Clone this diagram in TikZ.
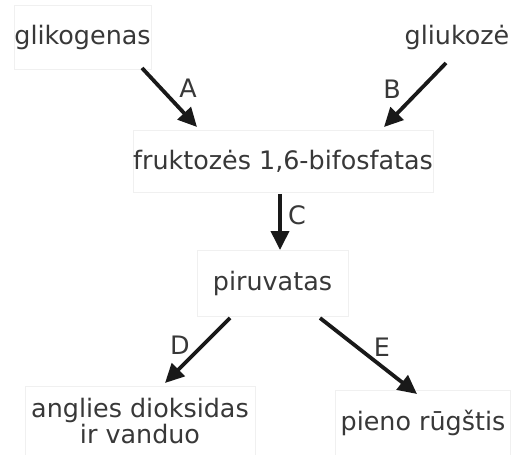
\documentclass[tikz,border=0pt]{standalone}
\usepackage{fontspec}
\setmainfont{DejaVu Sans}
\usetikzlibrary{arrows.meta}
\definecolor{txt}{HTML}{383838}
\definecolor{boxline}{HTML}{F0F0F0}
\tikzset{
  box/.style={draw=boxline, line width=0.8pt, inner sep=0pt, text=txt, align=center, font=\fontsize{25.5}{27}\selectfont},
  lbl/.style={text=txt, inner sep=0pt, font=\fontsize{25.5}{27}\selectfont},
  arr/.style={draw=black!90, line width=3.8pt, -{Triangle[length=19pt,width=18pt]}}
}
\begin{document}
\begin{tikzpicture}[x=1bp,y=-1bp]
\useasboundingbox[fill=white] (0,0) rectangle (511,455);
\node[box, minimum width=137bp, minimum height=64bp] (glik) at (82.5,37) {glikogenas};
\node[box, minimum width=100bp, minimum height=64bp, draw=none] (gliu) at (457,37) {gliukozė};
\node[box, minimum width=300bp, minimum height=62bp] (fruk) at (283,161) {fruktozės 1,6-bifosfatas};
\node[box, minimum width=151bp, minimum height=66bp] (piru) at (272.5,283) {piruvatas};
\node[box, minimum width=230bp, minimum height=70bp] (angl) at (140,421) {anglies dioksidas\\ir vanduo};
\node[box, minimum width=175bp, minimum height=65bp] (pien) at (423,423) {pieno rūgštis};
\coordinate (a1) at (142,68);
\coordinate (a2) at (197,127);
\coordinate (b1) at (446,63);
\coordinate (b2) at (384,127);
\coordinate (c1) at (280,194);
\coordinate (c2) at (280,250);
\coordinate (d1) at (230,318);
\coordinate (d2) at (165,383);
\coordinate (e1) at (320,318);
\coordinate (e2) at (417,394);
\draw[arr] (a1) -- (a2);
\draw[arr] (b1) -- (b2);
\draw[arr] (c1) -- (c2);
\draw[arr] (d1) -- (d2);
\draw[arr] (e1) -- (e2);
\node[lbl] (la) at (188,88) {A};
\node[lbl] (lb) at (392,89) {B};
\node[lbl] (lc) at (297,215) {C};
\node[lbl] (ld) at (180,345) {D};
\node[lbl] (le) at (382,347) {E};
\end{tikzpicture}
\end{document}
